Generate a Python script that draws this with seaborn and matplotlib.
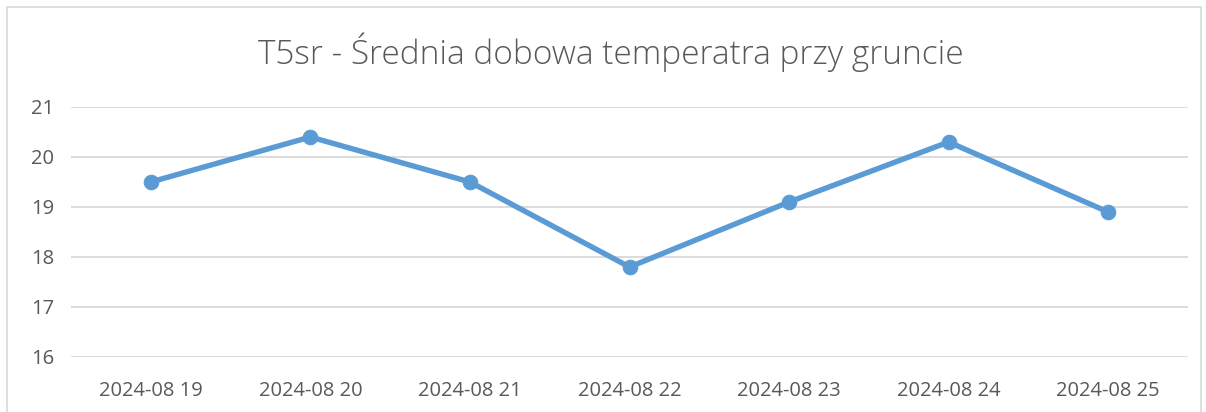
import matplotlib
matplotlib.use("Agg")
import matplotlib.pyplot as plt
import seaborn as sns
import pandas as pd
from matplotlib.patches import Rectangle

dates = ["2024-08 19", "2024-08 20", "2024-08 21", "2024-08 22",
         "2024-08 23", "2024-08 24", "2024-08 25"]
values = [19.5, 20.4, 19.5, 17.8, 19.1, 20.3, 18.9]
yticks = [16, 17, 18, 19, 20, 21]
title = "T5sr - Średnia dobowa temperatra przy gruncie"

sns.set_theme(style="white")
plt.rcParams['font.family'] = ['Open Sans', 'DejaVu Sans']

W, H = 1206, 412
fig = plt.figure(figsize=(W / 100, H / 100), dpi=100)
ax = fig.add_axes([71 / W, 1 - 357 / H, (1188 - 71) / W, 250 / H])

df = pd.DataFrame({"date": dates, "value": values})
df["pos"] = range(len(dates))
sns.lineplot(data=df, x="pos", y="value", ax=ax, color="#5B9BD5",
             linewidth=3.9, marker="o", markersize=10.5,
             markeredgecolor="#5B9BD5", sort=False)

ax.set_xlim(-0.5, len(dates) - 0.5)
ax.set_ylim(16, 21)
ax.set_yticks(yticks)
ax.set_yticklabels([str(t) for t in yticks])
ax.set_xticks(range(len(dates)))
ax.set_xticklabels(dates)
ax.set_xlabel("")
ax.set_ylabel("")
ax.grid(axis="y", color="#D9D9D9", linewidth=1.3)
ax.set_axisbelow(True)
for s in ax.spines.values():
    s.set_visible(False)
ax.tick_params(axis="both", length=0, labelsize=14.5, colors="#595959")
ax.tick_params(axis="x", pad=17)
ax.tick_params(axis="y", pad=12)

fig.text(611 / W, 1 - 52 / H, title, ha="center", va="center",
         fontsize=24, color="#595959", fontweight="light")

fig.patches.append(Rectangle((7 / W, -0.05), (1201 - 7) / W, 1 - 7 / H + 0.05,
                             transform=fig.transFigure, fill=False,
                             edgecolor="#D9D9D9", linewidth=1.2))

fig.savefig("out.png", dpi=100)
